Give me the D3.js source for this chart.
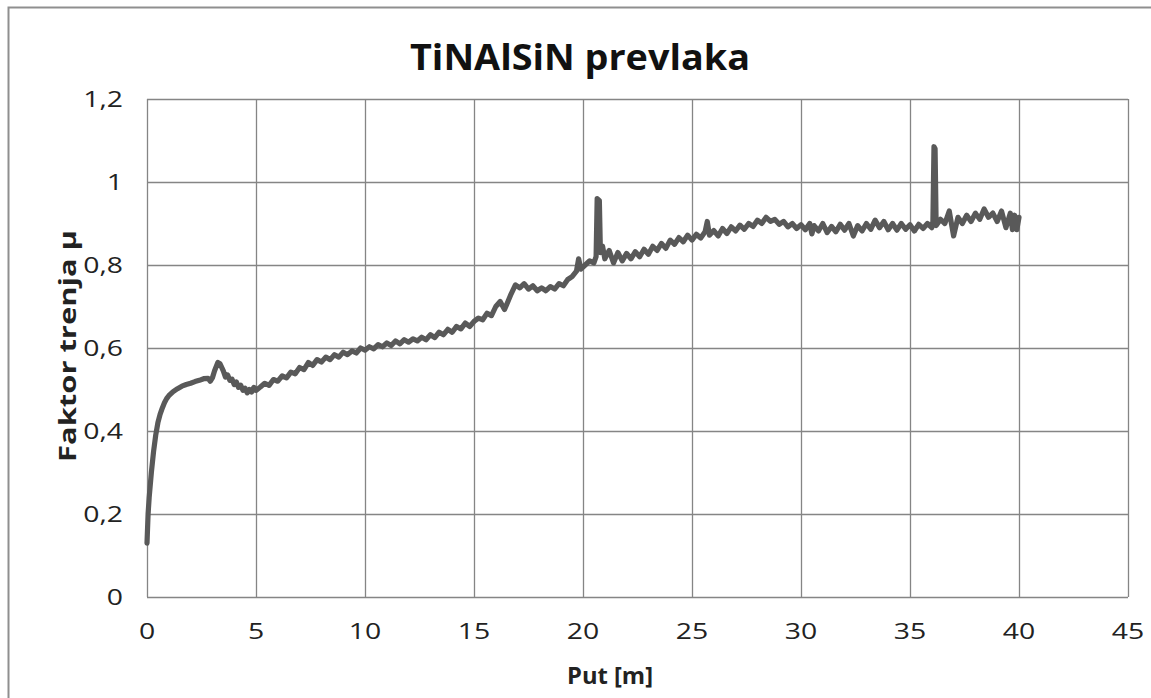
<!DOCTYPE html>
<html>
<head>
<meta charset="utf-8">
<script src="https://cdn.jsdelivr.net/npm/d3@7"></script>
<style>
    html, body { margin: 0; padding: 0; background: #fff; }
    svg { display: block; }
    text { font-family: "Open Sans", "Liberation Sans", sans-serif; fill: #222; }
</style>
</head>
<body>
<svg id="chart" width="1151" height="698"></svg>
<script>

// chart texts
const title = "TiNAlSiN prevlaka";
const xTitle = "Put [m]";
const yTitle = "Faktor trenja \u03bc";

// tick values, labels use a decimal comma
const xTicks = [0, 5, 10, 15, 20, 25, 30, 35, 40, 45];
const yTicks = [0, 0.2, 0.4, 0.6, 0.8, 1.0, 1.2];

// distance [m] and friction factor
const distance = [
    0, 0.05, 0.1, 0.2, 0.3, 0.4, 0.5, 0.6, 0.7, 0.8, 0.9, 1.0, 1.2, 1.4, 1.6, 1.8, 2.0, 2.2, 2.4, 2.6,
    2.8, 2.9, 3.0, 3.1, 3.25, 3.35, 3.5, 3.6, 3.7, 3.8, 3.9, 4.0, 4.1, 4.2, 4.3, 4.4, 4.5, 4.6, 4.7, 4.8,
    4.9, 5.0, 5.2, 5.4, 5.6, 5.8, 6.0, 6.2, 6.4, 6.6, 6.8, 7.0, 7.2, 7.4, 7.6, 7.8, 8.0, 8.2, 8.4, 8.6,
    8.8, 9.0, 9.2, 9.4, 9.6, 9.8, 10.0, 10.2, 10.4, 10.6, 10.8, 11.0, 11.2, 11.4, 11.6, 11.8, 12.0, 12.2, 12.4, 12.6,
    12.8, 13.0, 13.2, 13.4, 13.6, 13.8, 14.0, 14.2, 14.4, 14.6, 14.8, 15.0, 15.2, 15.4, 15.6, 15.8, 16.0, 16.2, 16.4, 16.5,
    16.7, 16.9, 17.1, 17.3, 17.5, 17.7, 17.9, 18.1, 18.3, 18.5, 18.7, 18.9, 19.1, 19.3, 19.5, 19.7, 19.8, 19.9, 20.1, 20.3,
    20.5, 20.6, 20.65, 20.75, 20.8, 20.9, 21.0, 21.2, 21.4, 21.6, 21.8, 22.0, 22.2, 22.4, 22.6, 22.8, 23.0, 23.2, 23.4, 23.6,
    23.8, 24.0, 24.2, 24.4, 24.6, 24.8, 25.0, 25.2, 25.4, 25.6, 25.7, 25.8, 26.0, 26.2, 26.4, 26.6, 26.8, 27.0, 27.2, 27.4,
    27.6, 27.8, 28.0, 28.2, 28.4, 28.6, 28.8, 29.0, 29.2, 29.4, 29.6, 29.8, 30.0, 30.2, 30.4, 30.5, 30.6, 30.8, 31.0, 31.2,
    31.4, 31.6, 31.8, 32.0, 32.2, 32.4, 32.6, 32.8, 33.0, 33.2, 33.4, 33.6, 33.8, 34.0, 34.2, 34.4, 34.6, 34.8, 35.0, 35.2,
    35.4, 35.6, 35.8, 36.0, 36.05, 36.1, 36.15, 36.2, 36.4, 36.6, 36.8, 37.0, 37.2, 37.4, 37.6, 37.8, 38.0, 38.2, 38.4, 38.6,
    38.8, 39.0, 39.2, 39.4, 39.6, 39.7, 39.8, 39.9, 40.0
];
const friction = [
    0.13, 0.20, 0.24, 0.30, 0.35, 0.39, 0.42, 0.44, 0.455, 0.468, 0.478, 0.485, 0.495, 0.502, 0.508, 0.512, 0.515, 0.519, 0.522, 0.526,
    0.527, 0.520, 0.528, 0.545, 0.565, 0.562, 0.545, 0.530, 0.535, 0.522, 0.525, 0.512, 0.518, 0.505, 0.510, 0.498, 0.503, 0.492, 0.500, 0.494,
    0.505, 0.498, 0.506, 0.515, 0.510, 0.524, 0.520, 0.533, 0.528, 0.542, 0.538, 0.553, 0.548, 0.565, 0.558, 0.572, 0.566, 0.578, 0.572, 0.584,
    0.578, 0.590, 0.584, 0.593, 0.588, 0.600, 0.595, 0.603, 0.598, 0.608, 0.603, 0.612, 0.606, 0.617, 0.610, 0.620, 0.614, 0.622, 0.617, 0.626,
    0.620, 0.632, 0.625, 0.638, 0.632, 0.645, 0.638, 0.652, 0.646, 0.660, 0.652, 0.664, 0.672, 0.668, 0.684, 0.678, 0.700, 0.712, 0.693, 0.705,
    0.730, 0.752, 0.745, 0.755, 0.742, 0.750, 0.738, 0.745, 0.738, 0.748, 0.742, 0.755, 0.750, 0.765, 0.772, 0.785, 0.815, 0.790, 0.800, 0.810,
    0.805, 0.820, 0.960, 0.955, 0.830, 0.845, 0.815, 0.835, 0.805, 0.830, 0.810, 0.828, 0.815, 0.832, 0.820, 0.838, 0.826, 0.845, 0.835, 0.852,
    0.840, 0.860, 0.850, 0.866, 0.856, 0.872, 0.860, 0.874, 0.865, 0.880, 0.905, 0.872, 0.883, 0.870, 0.888, 0.876, 0.892, 0.882, 0.896, 0.886,
    0.900, 0.893, 0.908, 0.900, 0.915, 0.905, 0.910, 0.898, 0.905, 0.892, 0.900, 0.888, 0.897, 0.885, 0.900, 0.875, 0.895, 0.882, 0.900, 0.878,
    0.893, 0.880, 0.898, 0.884, 0.900, 0.870, 0.895, 0.882, 0.900, 0.886, 0.908, 0.890, 0.905, 0.885, 0.900, 0.884, 0.900, 0.886, 0.897, 0.882,
    0.898, 0.888, 0.900, 0.890, 0.905, 1.085, 1.080, 0.895, 0.910, 0.900, 0.930, 0.870, 0.915, 0.900, 0.920, 0.905, 0.925, 0.910, 0.935, 0.915,
    0.925, 0.905, 0.930, 0.890, 0.925, 0.885, 0.920, 0.885, 0.915
];

const svg = d3.select("#chart");
const width = +svg.attr("width");
const height = +svg.attr("height");

// plot area (inner grid box)
const margin = {top: 99, right: 23, bottom: 101, left: 147};
const plotW = width - margin.left - margin.right;
const plotH = height - margin.top - margin.bottom;

const gridColor = "#858585";
const lineColor = "#595959";
const stretch = 1.35;  // tick text in the picture is drawn wide

// outer frame, only left and top edges show in the picture
svg.append("path")
    .attr("d", "M8.5," + height + " L8.5,7.5 L" + width + ",7.5")
    .attr("fill", "none")
    .attr("stroke", "#8f8f8f")
    .attr("stroke-width", 2);

const x = d3.scaleLinear().domain([0, 45]).range([0, plotW]);
const y = d3.scaleLinear().domain([0, 1.2]).range([plotH, 0]);

const g = svg.append("g")
    .attr("transform", "translate(" + margin.left + "," + margin.top + ")");

const fmt = d => d3.format(".1~f")(d).replace(".", ",");

// gridlines drawn through the axis generators
const xGrid = g.append("g")
    .attr("transform", "translate(0," + plotH + ")")
    .call(d3.axisBottom(x).tickValues(xTicks).tickSize(-plotH).tickFormat(""));
const yGrid = g.append("g")
    .call(d3.axisLeft(y).tickValues(yTicks).tickSize(-plotW).tickFormat(""));

[xGrid, yGrid].forEach(function (ax) {
    ax.select(".domain").remove();
    ax.selectAll("line")
        .attr("stroke", gridColor)
        .attr("stroke-width", 1.3);
});

// tick labels, stretched sideways like the source
g.append("g").selectAll("text")
    .data(xTicks)
    .enter().append("text")
    .attr("transform", d => "translate(" + x(d) + "," + (plotH + 42) + ") scale(" + stretch + ",1)")
    .attr("text-anchor", "middle")
    .style("font-size", "21px")
    .text(d => fmt(d));

g.append("g").selectAll("text")
    .data(yTicks)
    .enter().append("text")
    .attr("transform", d => "translate(-24," + (y(d) + 8) + ") scale(" + stretch + ",1)")
    .attr("text-anchor", "end")
    .style("font-size", "21px")
    .text(d => fmt(d));

// the friction curve
const points = distance.map((d, i) => [d, friction[i]]);

const line = d3.line()
    .x(d => x(d[0]))
    .y(d => y(d[1]));

g.append("path")
    .datum(points)
    .attr("fill", "none")
    .attr("stroke", lineColor)
    .attr("stroke-width", 5.2)
    .attr("stroke-linejoin", "round")
    .attr("stroke-linecap", "round")
    .attr("d", line);

// titles
svg.append("text")
    .attr("x", 580)
    .attr("y", 70)
    .attr("text-anchor", "middle")
    .attr("textLength", 340)
    .attr("lengthAdjust", "spacingAndGlyphs")
    .style("font-size", "35px")
    .style("font-weight", "bold")
    .style("fill", "#111")
    .text(title);

svg.append("text")
    .attr("x", 610)
    .attr("y", 684)
    .attr("text-anchor", "middle")
    .attr("textLength", 86)
    .attr("lengthAdjust", "spacingAndGlyphs")
    .style("font-size", "23px")
    .style("font-weight", "bold")
    .text(xTitle);

svg.append("text")
    .attr("transform", "translate(76,346) rotate(-90)")
    .attr("text-anchor", "middle")
    .attr("textLength", 232)
    .attr("lengthAdjust", "spacingAndGlyphs")
    .style("font-size", "23px")
    .style("font-weight", "bold")
    .text(yTitle);

</script>
</body>
</html>
